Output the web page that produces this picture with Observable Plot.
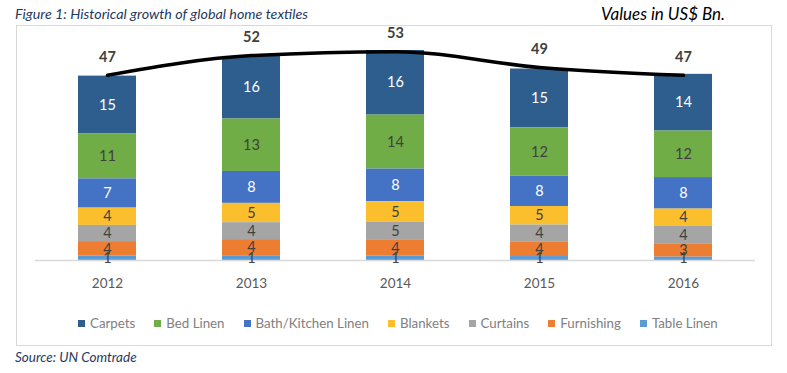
<!DOCTYPE html>
<html>
<head>
<meta charset="utf-8">
<script src="https://cdn.jsdelivr.net/npm/d3@7"></script>
<script src="https://cdn.jsdelivr.net/npm/@observablehq/plot@0.6"></script>
<style>
  html, body { margin: 0; padding: 0; background: #fff; }
  #wrap { position: relative; width: 787px; height: 373px; overflow: hidden; font-family: Lato, "Open Sans", sans-serif; }
  #frame { position: absolute; left: 16px; top: 25px; width: 756px; height: 321px; border: 1px solid #d9d9d9; box-sizing: border-box; }
  #title { position: absolute; left: 15px; top: 5px; font-style: italic; font-size: 14.3px; color: #1f3a5f; }
  #units { position: absolute; left: 601px; top: 3px; font-style: italic; font-size: 17px; color: #000; }
  #chart { position: absolute; left: 0; top: 0; }
  #legend { position: absolute; left: 78px; top: 315px; display: flex; gap: 19px; font-size: 13.3px; color: #808080; }
  #legend .item { display: flex; align-items: center; gap: 5px; }
  #legend .sw { width: 7px; height: 7px; display: inline-block; }
  #source { position: absolute; left: 15px; top: 349px; font-style: italic; font-size: 13.5px; color: #1f3a5f; }
</style>
</head>
<body>
<div id="wrap">
  <div id="frame"></div>
  <div id="title">Figure 1: Historical growth of global home textiles</div>
  <div id="units">Values in US$ Bn.</div>
  <div id="chart"></div>
  <div id="legend"></div>
  <div id="source">Source: UN Comtrade</div>
</div>
<script>
// ---- data (US$ Bn.) ----
const years = ["2012", "2013", "2014", "2015", "2016"];
const categories = ["Carpets", "Bed Linen", "Bath/Kitchen Linen", "Blankets", "Curtains", "Furnishing", "Table Linen"];
const carpets    = [14.7, 15.9, 16.4, 14.9, 14.4];
const bedLinen   = [11.4, 13.3, 13.7, 12.3, 11.8];
const bathKitchen= [7.4, 8.1, 8.3, 7.7, 8.0];
const blankets   = [4.4, 4.9, 5.2, 4.7, 4.4];
const curtains   = [4.1, 4.3, 4.6, 4.4, 4.4];
const furnishing = [3.7, 4.1, 4.0, 3.6, 3.4];
const tableLinen = [1.1, 1.2, 1.1, 1.0, 0.85];
const totals     = [47, 52, 53, 49, 47];
const colors = ["#2e5e8e", "#70ad47", "#4472c4", "#fbbf2e", "#a5a5a5", "#ed7d31", "#5b9bd5"];
const whiteLabelCats = ["Carpets", "Bath/Kitchen Linen"];

const seriesValues = [carpets, bedLinen, bathKitchen, blankets, curtains, furnishing, tableLinen];
const rows = [];
categories.forEach((c, k) => years.forEach((y, i) => rows.push({year: y, cat: c, value: seriesValues[k][i]})));
const totalRows = years.map((y, i) => ({year: y, total: totals[i]}));
const stackOrder = categories.slice().reverse(); // bottom to top

const stackOpts = {x: "year", y: "value", z: "cat", order: stackOrder};
const isWhite = d => whiteLabelCats.includes(d.cat);

const chart = Plot.plot({
  width: 787,
  height: 300,
  marginLeft: 35,
  marginRight: 32,
  marginTop: 23.6,
  marginBottom: 40,
  style: {fontFamily: "Lato, 'Open Sans', sans-serif", fontSize: "13.5px", color: "#595959", background: "transparent", overflow: "visible"},
  x: {domain: years, paddingInner: 0.6, paddingOuter: 0.3, align: 0.5, label: null, tickSize: 0, tickPadding: 18},
  y: {domain: [0, 60], axis: null},
  color: {domain: categories, range: colors},
  marks: [
    Plot.barY(rows, Plot.stackY({...stackOpts, fill: "cat"})),
    Plot.ruleY([0], {stroke: "#d9d9d9", strokeWidth: 1.5}),
    Plot.text(rows, Plot.stackY({...stackOpts, text: d => isWhite(d) ? String(Math.round(d.value)) : null, fill: "white", fontSize: 14.5})),
    Plot.text(rows, Plot.stackY({...stackOpts, text: d => isWhite(d) ? null : String(Math.round(d.value)), fill: "#404040", fontSize: 14.5})),
    Plot.line(totalRows, {x: "year", y: "total", stroke: "#000", strokeWidth: 3.5, curve: "monotone-x"}),
    Plot.text(totalRows, {x: "year", y: "total", text: "total", dy: -18, fill: "#404040", fontWeight: "bold", fontSize: 14.5})
  ]
});
document.getElementById("chart").appendChild(chart);

// legend
const legend = document.getElementById("legend");
categories.forEach((c, k) => {
  const item = document.createElement("div");
  item.className = "item";
  const sw = document.createElement("span");
  sw.className = "sw";
  sw.style.background = colors[k];
  const t = document.createElement("span");
  t.textContent = c;
  item.appendChild(sw); item.appendChild(t);
  legend.appendChild(item);
});
</script>
</body>
</html>
